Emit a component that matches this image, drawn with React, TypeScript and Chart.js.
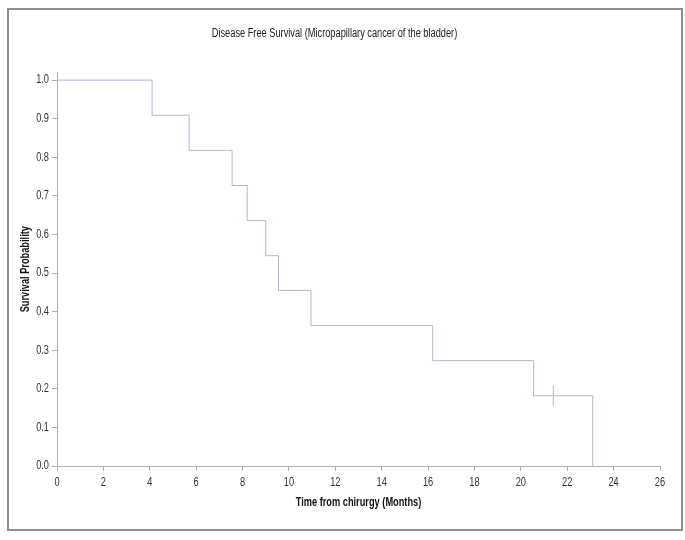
import React, { useEffect, useRef } from "react";
import { Chart, registerables } from "chart.js";

Chart.register(...registerables);

const times = [0, 4.1, 5.7, 7.55, 8.2, 9.0, 9.55, 10.95, 16.2, 20.55, 23.1];
const survival = [1, 0.909, 0.818, 0.727, 0.636, 0.545, 0.455, 0.364, 0.273, 0.182, 0];
const censorTimes = [21.4];
const censorSurvival = [0.182];

const titleText = "Disease Free Survival (Micropapillary cancer of the bladder)";
const xTitle = "Time from chirurgy (Months)";
const yTitle = "Survival Probability";

const FONT = "'Liberation Sans', Arial, sans-serif";
const LINE = "#b4b4d6";
const AXIS = "#b0b0b0";
const NARROW = 0.77;

// condense text horizontally (emulates a narrow sans face, which is not installed)
const narrowText = {
  id: "narrowText",
  beforeInit(chart: any) {
    const ctx = chart.ctx as CanvasRenderingContext2D;
    const orig = ctx.fillText.bind(ctx);
    (ctx as any).fillText = (text: string, x: number, y: number, maxWidth?: number) => {
      ctx.save();
      ctx.translate(x, y);
      ctx.scale(NARROW, 1);
      if (maxWidth !== undefined) orig(text, 0, 0, maxWidth / NARROW);
      else orig(text, 0, 0);
      ctx.restore();
    };
  },
};

export default function App() {
  const ref = useRef<HTMLCanvasElement | null>(null);
  useEffect(() => {
    if (!ref.current) return;
    const chart = new Chart(ref.current, {
      type: "line",
      plugins: [narrowText],
      data: {
        datasets: [
          {
            label: "Survival",
            data: times.map((t, i) => ({ x: t, y: survival[i] })),
            stepped: "before",
            borderColor: LINE,
            borderWidth: 1,
            pointRadius: 0,
            fill: false,
          },
          {
            label: "Censored",
            type: "scatter",
            data: censorTimes.map((t, i) => ({ x: t, y: censorSurvival[i] })),
            pointStyle: "line",
            rotation: 90,
            pointRadius: 10,
            borderColor: LINE,
            borderWidth: 1,
          } as any,
        ],
      },
      options: {
        animation: false,
        responsive: false,
        maintainAspectRatio: false,
        layout: { padding: { left: 0, right: 21, top: 0, bottom: 0 } },
        plugins: {
          legend: { display: false },
          tooltip: { enabled: false },
          title: {
            display: true,
            text: titleText,
            color: "#222",
            font: { family: FONT, size: 12, weight: "normal" },
            padding: { top: 16.6, bottom: 31.4 },
          },
        },
        scales: {
          x: {
            type: "linear",
            min: 0,
            max: 26,
            ticks: {
              stepSize: 2,
              color: "#333",
              padding: 4,
              maxRotation: 0,
              font: { family: FONT, size: 12 },
            },
            grid: { drawOnChartArea: false, drawTicks: true, tickLength: 5, color: AXIS },
            border: { color: AXIS },
            title: {
              display: true,
              text: xTitle,
              color: "#111",
              font: { family: FONT, size: 12, weight: "bold" },
              padding: { top: 18.8, bottom: 18.8 },
            },
            afterFit: (s: any) => {
              s.height = 63;
            },
          },
          y: {
            type: "linear",
            min: 0,
            max: 1.02,
            ticks: {
              stepSize: 0.1,
              includeBounds: false,
              color: "#333",
              padding: 3,
              font: { family: FONT, size: 12 },
              callback: (v: any) => Number(v).toFixed(1),
            },
            grid: { drawOnChartArea: false, drawTicks: true, tickLength: 5, color: AXIS },
            border: { color: AXIS },
            title: {
              display: true,
              text: yTitle,
              color: "#111",
              font: { family: FONT, size: 12, weight: "bold" },
              padding: { top: 9.3, bottom: 9.3 },
            },
            afterFit: (s: any) => {
              s.width = 48;
            },
          },
        },
      },
    });
    return () => chart.destroy();
  }, []);
  return (
    <div
      style={{
        position: "absolute",
        left: 7,
        top: 8,
        width: 676,
        height: 523,
        border: "2px solid #8e8e8e",
        boxSizing: "border-box",
        background: "#fff",
      }}
    >
      <canvas ref={ref} width={672} height={519} style={{ display: "block" }} />
    </div>
  );
}
